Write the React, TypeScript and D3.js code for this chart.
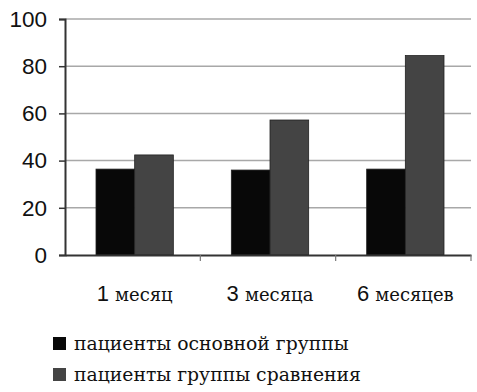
import React, { useEffect, useRef } from "react";
import * as d3 from "d3";

const categories = ["1 месяц", "3 месяца", "6 месяцев"];
const seriesNames = ["пациенты основной группы", "пациенты группы сравнения"];
const mainGroup = [36.4, 36, 36.4];
const compareGroup = [42.4, 57.2, 84.5];
const yTicks = [0, 20, 40, 60, 80, 100];
const colors = ["#080808", "#444444"];

const SANS = "'Liberation Sans', Arial, sans-serif";
const SERIF = "'DejaVu Serif', serif";

export default function App() {
  const ref = useRef<SVGSVGElement>(null);

  useEffect(() => {
    const svg = d3.select(ref.current);
    svg.selectAll("*").remove();

    const margin = { top: 19, right: 6, bottom: 137, left: 65 };
    const width = 477;
    const height = 392;

    const x = d3
      .scaleBand()
      .domain(categories)
      .range([margin.left, width - margin.right])
      .paddingInner(0)
      .paddingOuter(0);
    const y = d3.scaleLinear().domain([0, 100]).range([height - margin.bottom, margin.top]);

    const inner = d3.scaleBand().domain(["0", "1"]).range([0, x.bandwidth()]).paddingOuter(0.75).paddingInner(0);

    // grid
    svg
      .append("g")
      .selectAll("line")
      .data(yTicks.filter((d) => d > 0))
      .join("line")
      .attr("x1", margin.left)
      .attr("x2", width - margin.right)
      .attr("y1", (d) => y(d))
      .attr("y2", (d) => y(d))
      .attr("stroke", "#a8a8a8")
      .attr("stroke-width", 1.5);

    // bars
    const groups = svg
      .append("g")
      .selectAll("g")
      .data(categories)
      .join("g")
      .attr("transform", (d) => `translate(${x(d)! + 2},0)`);

    groups
      .selectAll("rect")
      .data((d, i) => [mainGroup[i], compareGroup[i]])
      .join("rect")
      .attr("x", (d, j) => inner(String(j))!)
      .attr("width", inner.bandwidth())
      .attr("y", (d) => y(d))
      .attr("height", (d) => y(0) - y(d))
      .attr("fill", (d, j) => colors[j])
      .attr("stroke", "#222")
      .attr("stroke-width", 0.8);

    // y axis
    const yAxis = svg
      .append("g")
      .attr("transform", `translate(${margin.left},0)`)
      .call(d3.axisLeft(y).tickValues(yTicks).tickSize(6).tickPadding(12));
    yAxis.select(".domain").attr("stroke", "#333").attr("stroke-width", 2);
    yAxis.selectAll(".tick line").attr("stroke", "#333").attr("stroke-width", 1.5);
    yAxis
      .selectAll(".tick text")
      .style("font-family", SANS)
      .attr("font-size", 22.5)
      .attr("fill", "#111");

    // x axis
    const xAxis = svg
      .append("g")
      .attr("transform", `translate(0,${y(0)})`)
      .call(d3.axisBottom(x).tickSize(0).tickFormat(() => ""));
    xAxis.select(".domain").attr("stroke", "#333").attr("stroke-width", 2);

    svg
      .append("g")
      .selectAll("line")
      .data(categories)
      .join("line")
      .attr("x1", (d) => x(d)! + x.bandwidth())
      .attr("x2", (d) => x(d)! + x.bandwidth())
      .attr("y1", y(0))
      .attr("y2", y(0) + 6)
      .attr("stroke", "#777")
      .attr("stroke-width", 1.2);

    // x labels: digit in sans, word in serif
    const labels = svg
      .append("g")
      .selectAll("text")
      .data(categories)
      .join("text")
      .attr("x", (d) => x(d)! + x.bandwidth() / 2 + 2)
      .attr("y", y(0) + 46)
      .attr("text-anchor", "middle")
      .attr("fill", "#111");
    labels
      .append("tspan")
      .style("font-family", SANS)
      .attr("font-size", 22)
      .text((d) => d.split(" ")[0] + " ");
    labels
      .append("tspan")
      .style("font-family", SERIF)
      .attr("font-size", 18)
      .text((d) => d.split(" ")[1]);

    // legend
    const legend = svg
      .append("g")
      .selectAll("g")
      .data(seriesNames)
      .join("g")
      .attr("transform", (d, i) => `translate(53,${337 + i * 31})`);
    legend
      .append("rect")
      .attr("width", 13)
      .attr("height", 13)
      .attr("fill", (d, i) => colors[i]);
    legend
      .append("text")
      .attr("x", 21)
      .attr("y", 13)
      .style("font-family", SERIF)
      .attr("font-size", 18.8)
      .attr("fill", "#111")
      .text((d) => d);
  }, []);

  return <svg ref={ref} width={477} height={392} style={{ position: "absolute", left: 0, top: 0 }} />;
}
